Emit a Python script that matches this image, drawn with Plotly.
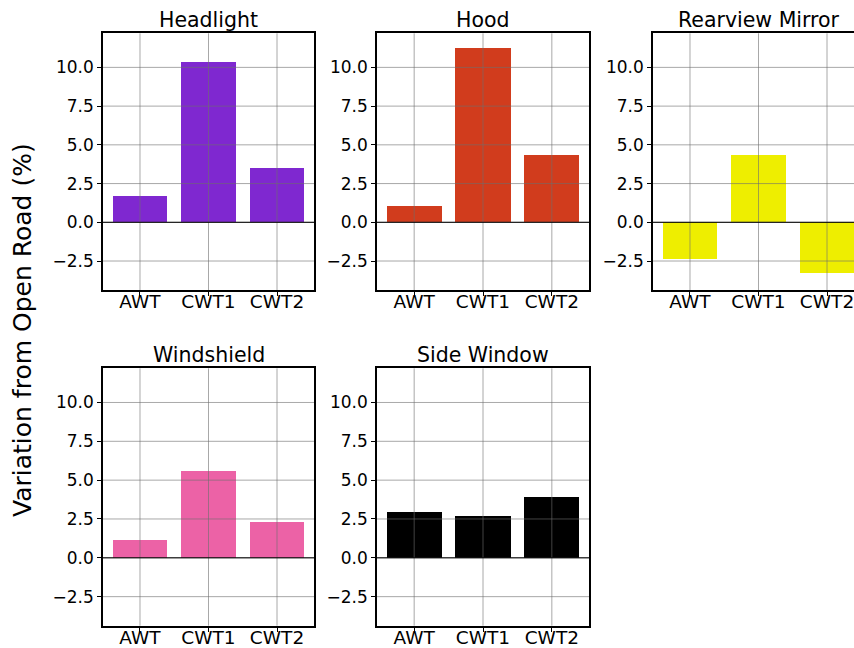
import plotly.graph_objects as go

# Wind-tunnel comparison, per-component variation from open-road results
categories = ["AWT", "CWT1", "CWT2"]
components = ["Headlight", "Hood", "Rearview Mirror", "Windshield", "Side Window"]
headlight = [1.65, 10.32, 3.46]
hood = [1.03, 11.26, 4.34]
rearview_mirror = [-2.37, 4.32, -3.32]
windshield = [1.10, 5.54, 2.31]
side_window = [2.91, 2.70, 3.92]
y_ticks = [-2.5, 0.0, 2.5, 5.0, 7.5, 10.0]
y_tick_text = ["\u22122.5", "0.0", "2.5", "5.0", "7.5", "10.0"]

series = [headlight, hood, rearview_mirror, windshield, side_window]
colors = ["#7f28d0", "#d13c1d", "#eeee00", "#ec62a6", "#000000"]

W, H = 854, 648
# axis boxes in pixels (left, right, top, bottom); last column runs past the page edge
col_px = [(103, 314), (377, 589), (653, 864)]
row_px = [(33.3, 290), (368.3, 625.7)]
y_range = [-4.37, 12.2]
x_range = [-0.54, 2.54]
bar_width = 0.8

FONT = "DejaVu Sans"
fig = go.Figure()

positions = [(0, 0), (0, 1), (0, 2), (1, 0), (1, 1)]
grid_color = "rgba(110,110,110,0.6)"

for i, (name, vals, col) in enumerate(zip(components, series, colors)):
    r, c = positions[i]
    n = i + 1
    xa = "x" if n == 1 else f"x{n}"
    ya = "y" if n == 1 else f"y{n}"
    left, right = col_px[c]
    top, bottom = row_px[r]
    vis_right = min(right, W)
    px_per_unit = (right - left) / (x_range[1] - x_range[0])
    xr = [x_range[0], x_range[0] + (vis_right - left) / px_per_unit]
    clipped = right > W

    fig.add_trace(go.Bar(
        x=list(range(len(categories))), y=vals, width=bar_width,
        marker=dict(color=col, line=dict(width=0)),
        xaxis=xa, yaxis=ya, showlegend=False, name=name,
    ))

    axis_common = dict(
        showgrid=False, zeroline=False, automargin=False,
        showline=True, linecolor="black", linewidth=1.6,
        ticks="outside", ticklen=4, tickwidth=1, tickcolor="black",
        ticklabeloverflow="allow",
    )
    fig.layout[f"xaxis{'' if n == 1 else n}"] = dict(
        axis_common,
        domain=[left / W, vis_right / W],
        range=xr, anchor=ya, mirror=True,
        tickvals=list(range(len(categories))), ticktext=categories,
        tickfont=dict(family=FONT, size=18.5, color="black"),
        ticklabelstandoff=-10,
    )
    fig.layout[f"yaxis{'' if n == 1 else n}"] = dict(
        axis_common,
        domain=[1 - bottom / H, 1 - top / H],
        range=y_range, anchor=xa, mirror=not clipped,
        tickvals=y_ticks, ticktext=y_tick_text,
        tickfont=dict(family=FONT, size=17, color="black"),
    )

    # grid drawn over the bars
    for t in y_ticks:
        fig.add_shape(type="line", xref=f"{xa} domain", yref=ya,
                      x0=0, x1=1, y0=t, y1=t, layer="above",
                      line=dict(color=grid_color, width=1))
    for k in range(len(categories)):
        fig.add_shape(type="line", xref=xa, yref=f"{ya} domain",
                      x0=k, x1=k, y0=0, y1=1, layer="above",
                      line=dict(color=grid_color, width=1))
    # zero reference line
    fig.add_shape(type="line", xref=f"{xa} domain", yref=ya,
                  x0=0, x1=1, y0=0, y1=0, layer="above",
                  line=dict(color="black", width=1))

    # subplot title centred on the full axis box
    fig.add_annotation(
        text=name, xref="paper", yref="paper",
        x=(left + right) / 2 / W, y=1 - (top - 13) / H,
        xanchor="center", yanchor="middle", showarrow=False,
        font=dict(family=FONT, size=20.5, color="black"),
    )

fig.add_annotation(
    text="Variation from Open Road (%)", xref="paper", yref="paper",
    x=22 / W, y=1 - 330 / H, textangle=-90, showarrow=False,
    xanchor="center", yanchor="middle",
    font=dict(family=FONT, size=25, color="black"),
)

fig.update_layout(
    width=W, height=H, autosize=False,
    margin=dict(l=0, r=0, t=0, b=0),
    paper_bgcolor="white", plot_bgcolor="white",
    bargap=0,
)

fig.write_html("out.html")
